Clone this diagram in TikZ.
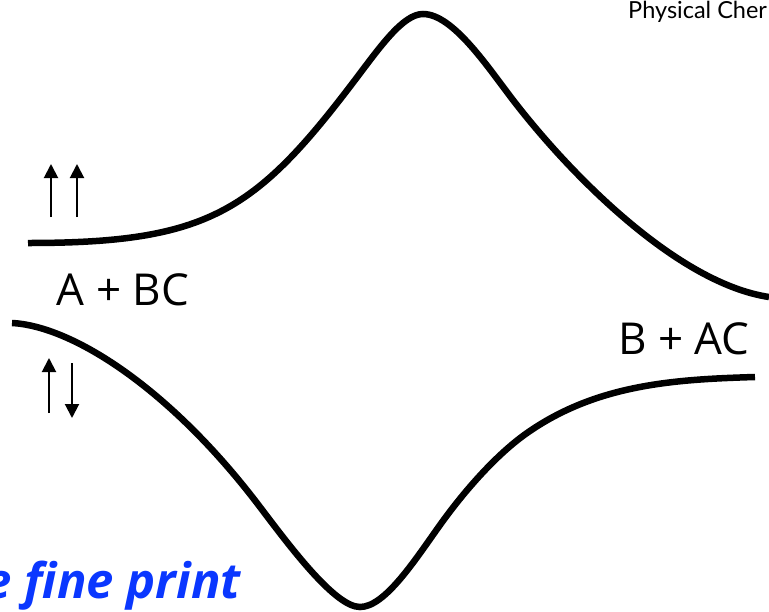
\documentclass[tikz,border=0pt]{standalone}
\usepackage{fontspec}
\setmainfont{Open Sans}
\newfontfamily\headfont{Lato}
\newfontfamily\printfont{Open Sans}
\usetikzlibrary{arrows.meta}
\definecolor{printblue}{RGB}{10,55,255}

\begin{document}
\begin{tikzpicture}[x=1pt, y=-1pt,
  surface/.style={line width=6.5pt},
  spin/.style={line width=2pt, -{Triangle[width=14pt, length=14pt]}},
  species/.style={font=\fontsize{44}{48}\selectfont}]
  \useasboundingbox (0,0) rectangle (769,611);
  % upper surface
  \draw[surface] (28,243) .. controls (208,243) and (255,212) .. (355,80)
    .. controls (380,47) and (403,14) .. (423,14)
    .. controls (453,14) and (488,67.5) .. (513,100)
    .. controls (573,178) and (679,283.5) .. (769,297);
  % lower surface
  \draw[surface] (12,323) .. controls (72,326) and (170,388) .. (260,507)
    .. controls (290,546.6) and (335,607) .. (360,607)
    .. controls (385,607) and (415,560) .. (440,525)
    .. controls (465,490) and (497,454) .. (527,433)
    .. controls (597,384) and (675,379.4) .. (755,377);
  % species labels
  \node[species] (reactant) at (123,290) {A + BC};
  \node[species] (product) at (684,339) {B + AC};
  % spins
  \coordinate (s1) at (51,217);
  \coordinate (s2) at (77,217);
  \draw[spin] (s1) -- ++(0,-53);
  \draw[spin] (s2) -- ++(0,-53);
  \coordinate (s3) at (49,413);
  \coordinate (s4) at (72,363);
  \draw[spin] (s3) -- ++(0,-55);
  \draw[spin] (s4) -- ++(0,55);
  % header and footer
  \node[anchor=base west, font=\headfont\fontsize{23.5}{26}\selectfont, inner sep=0pt]
    (header) at (628,18) {Physical Cher};
  \node[anchor=base east, font=\printfont\bfseries\itshape\fontsize{49}{52}\selectfont,
    text=printblue, inner sep=0pt] (fineprint) at (241,598) {the fine print};
\end{tikzpicture}
\end{document}
